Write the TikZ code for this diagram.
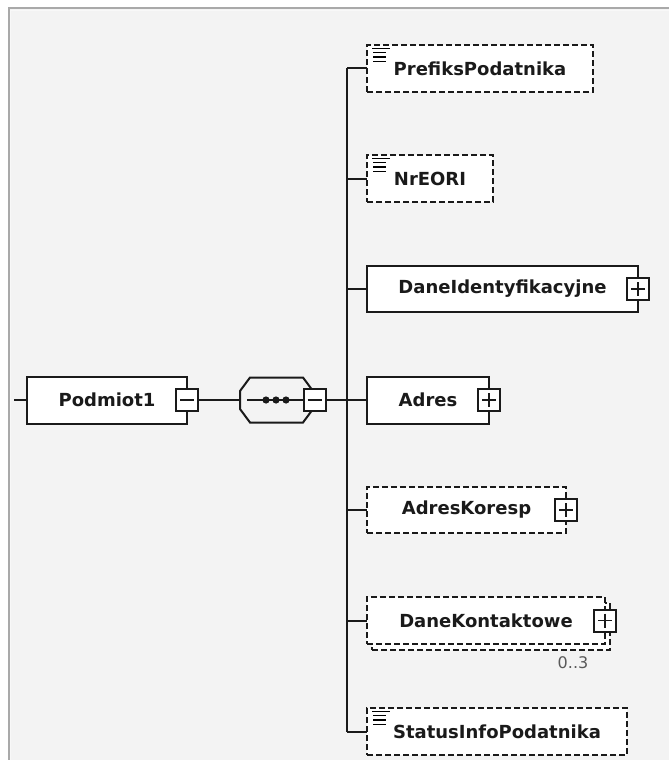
\documentclass[tikz,border=0pt]{standalone}
\usepackage{fontspec}
\setmainfont{DejaVu Sans}
\usetikzlibrary{shadows}
\definecolor{Panel}{HTML}{F3F3F3}
\definecolor{Frame}{HTML}{A9A9A9}
\definecolor{Ink}{HTML}{1A1A1A}

\begin{document}
\begin{tikzpicture}[
  x=1pt, y=-1pt,
  line width=2pt,
  link/.style = {draw=Ink, line width=2pt},
  element/.style = {draw=Ink, fill=white, minimum height=47, inner sep=0pt, outer sep=0pt,
    anchor=west, font=\bfseries\fontsize{18}{20}\selectfont, text=Ink},
  optional/.style = {element, dash pattern=on 6pt off 3pt},
  expander/.style = {draw=Ink, fill=white, minimum size=22, inner sep=0pt, outer sep=0pt, line width=2pt},
  collapse/.style = {expander, path picture={
      \draw[line width=1.6pt] ([xshift=4pt]path picture bounding box.west) -- ([xshift=-4pt]path picture bounding box.east);}},
  expand/.style = {expander, path picture={
      \draw[line width=1.6pt] ([xshift=4pt]path picture bounding box.west) -- ([xshift=-4pt]path picture bounding box.east);
      \draw[line width=1.6pt] ([yshift=-4pt]path picture bounding box.north) -- ([yshift=4pt]path picture bounding box.south);}},
  card/.style = {inner sep=0pt, font=\fontsize{16}{18}\selectfont, text=black!65}
  ]
  \useasboundingbox (0,0) rectangle (669,760);
  \fill[white] (0,0) rectangle (669,760);
  \draw[Frame, line width=2pt, fill=Panel] (8.5,8.5) rectangle (700,800);
  \draw[white!92!Frame, line width=1pt] (10.5,800) |- (700,10.5);
  %
  \coordinate (entry) at (14,400);
  \node[element, minimum width=160] (podmiot) at (27,400) {Podmiot1};
  \node[collapse] (podmiotX) at (podmiot.east) {};
  \draw[link] (entry) -- (podmiot.west);
  %
  \coordinate (seqin) at (240,400);
  \draw[link] (seqin) -- ++(0,-9) -- ++(10,-13.5) -- ++(53,0) -- ++(10,13.5) -- ++(0,18)
    -- ++(-10,13.5) -- ++(-53,0) -- ++(-10,-13.5) -- cycle;
  \node[collapse] (seqX) at (314.5,400) {};
  \draw[link] (podmiotX.east) -- (seqin);
  \draw[link] ([xshift=7pt]seqin) -- (seqX.west);
  \foreach \d in {266,276,286}
    \fill[Ink] (\d,400) circle (3.6);
  %
  \node[optional, minimum width=226] (prefiks) at (367,68.5) {PrefiksPodatnika};
  \node[optional, minimum width=126] (nreori) at (367,178.5) {NrEORI};
  \node[element, minimum width=271, minimum height=46] (daneid) at (367,289) {DaneIdentyfikacyjne};
  \node[expand] (daneidX) at (daneid.east) {};
  \node[element, minimum width=122] (adres) at (367,400) {Adres};
  \node[expand] (adresX) at (adres.east) {};
  \node[optional, minimum width=199, minimum height=46] (adreskor) at (367,510) {AdresKoresp};
  \node[expand] (adreskorX) at (adreskor.east) {};
  \node[optional, minimum width=238,
    copy shadow={shadow xshift=5pt, shadow yshift=-6pt, draw=Ink, fill=white,
      line width=2pt, dash pattern=on 6pt off 3pt}] (danekont) at (367,620.5) {DaneKontaktowe};
  \node[expand] (danekontX) at (danekont.east) {};
  \node[card] (danekontN) at (573,663) {0..3};
  \node[optional, minimum width=260] (status) at (367,731.5) {StatusInfoPodatnika};
  %
  \coordinate (bus) at (347,400);
  \draw[link] (seqX.east) -- (bus);
  \draw[link] (prefiks.west -| bus) -- (status.west -| bus);
  \foreach \n in {prefiks,nreori,daneid,adres,adreskor,danekont,status}
    \draw[link] (\n.west -| bus) -- (\n.west);
  %
  \foreach \n in {prefiks,nreori,status} {
    \draw[line width=1.3pt] ([shift={(5,3.5)}]\n.north west) -- +(18,0);
    \foreach \k in {1,2,3}
      \draw[line width=1.3pt] ([shift={(6,3.5+4.3*\k)}]\n.north west) -- +(13,0);
  }
\end{tikzpicture}
\end{document}
